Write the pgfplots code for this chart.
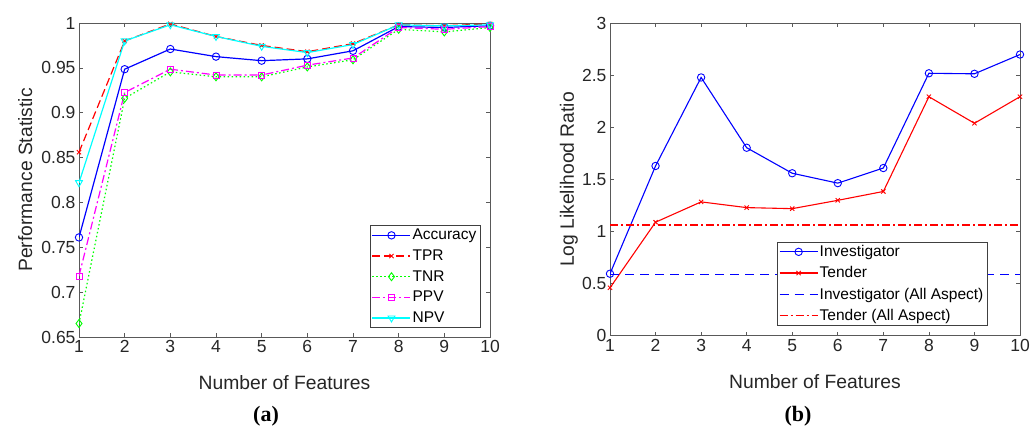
\documentclass[border=0pt]{standalone}
\usepackage{fontspec}
\setmainfont{Liberation Sans}
\newfontfamily\capfont{Liberation Serif}
\usepackage{pgfplots}
\pgfplotsset{compat=1.18}
\usepackage{pgfplotstable}

\pgfplotstableread{
x acc tpr tnr ppv npv
1 0.761 0.856 0.665 0.718 0.822
2 0.9485 0.980 0.916 0.9225 0.980
3 0.971 0.999 0.9455 0.9485 0.998
4 0.9625 0.985 0.940 0.942 0.985
5 0.958 0.975 0.940 0.942 0.974
6 0.960 0.968 0.951 0.953 0.967
7 0.969 0.977 0.959 0.961 0.976
8 0.996 0.998 0.993 0.995 0.998
9 0.995 0.997 0.990 0.993 0.9967
10 0.997 0.999 0.995 0.996 0.998
}\perf

\pgfplotstableread{
x inv ten
1 0.595 0.46
2 1.63 1.09
3 2.48 1.285
4 1.805 1.23
5 1.56 1.22
6 1.465 1.30
7 1.61 1.385
8 2.52 2.295
9 2.515 2.04
10 2.70 2.295
}\llr

\definecolor{mblue}{rgb}{0,0,1}
\definecolor{mred}{rgb}{1,0,0}
\definecolor{mgreen}{rgb}{0,1,0}
\definecolor{mmag}{rgb}{1,0,1}
\definecolor{mcyan}{rgb}{0,1,1}

\pgfplotsset{
  mstyle/.style={
    scale only axis,
    anchor=south west,
    xmin=1, xmax=10,
    xtick={1,...,10},
    tick pos=both,
    tick align=inside,
    major tick length=4pt,
    axis line style={black!65, line width=0.6pt},
    every tick/.style={black!65, line width=0.6pt},
    tick label style={font=\fontsize{17.5}{20}\selectfont, text=black!85},
    label style={font=\fontsize{19.3}{22}\selectfont, text=black!85},
    /pgf/number format/assume math mode=true,
    legend cell align=left,
    legend style={font=\fontsize{15.5}{18}\selectfont, draw=black!75, line width=0.6pt,
      inner sep=2pt, row sep=5.5pt, nodes={inner sep=1.5pt}},
    legend image code/.code={\draw[line width=1.2pt, mark repeat=2,mark phase=2] plot coordinates {(0pt,0pt) (19pt,0pt) (38pt,0pt)};},
    every axis plot/.append style={line width=1.2pt},
  }
}

\begin{document}
\begin{tikzpicture}
\useasboundingbox (0pt,0pt) rectangle (1033pt,428pt);

\begin{axis}[mstyle,
  at={(79pt,91pt)}, width=411pt, height=314pt,
  ymin=0.65, ymax=1,
  ytick={0.65,0.7,0.75,0.8,0.85,0.9,0.95,1},
  yticklabels={0.65,0.7,0.75,0.8,0.85,0.9,0.95,1},
  xlabel={Number of Features},
  ylabel={Performance Statistic},
  xlabel style={at={(axis description cs:0.5,0)}, anchor=center, yshift=-46pt},
  ylabel style={at={(axis description cs:-0.131,0.5)}, anchor=center},
  legend style={at={(axis description cs:0.976,0.029)}, anchor=south east},
]
\addplot[mblue, solid, mark=o, mark size=3.7pt, mark options={line width=0.9pt}] table[x=x,y=acc] {\perf};
\addlegendentry{Accuracy}
\addplot[mred, dashed, dash pattern=on 8pt off 4pt, mark=x, mark size=3pt, mark options={solid,line width=0.9pt}] table[x=x,y=tpr] {\perf};
\addlegendentry{TPR}
\addplot[mgreen, dotted, dash pattern=on 1.5pt off 2.5pt, mark=diamond, mark size=4pt, mark options={solid,line width=0.9pt}] table[x=x,y=tnr] {\perf};
\addlegendentry{TNR}
\addplot[mmag, dash pattern=on 8pt off 3pt on 2pt off 3pt, mark=square, mark size=3pt, mark options={solid,line width=0.9pt}] table[x=x,y=ppv] {\perf};
\addlegendentry{PPV}
\addplot[mcyan, solid, mark=triangle, mark size=4pt, mark options={rotate=180,line width=0.9pt}] table[x=x,y=npv] {\perf};
\addlegendentry{NPV}
\end{axis}

\begin{axis}[mstyle,
  at={(610pt,92.3pt)}, width=410pt, height=312.4pt,
  ymin=0, ymax=3,
  ytick={0,0.5,1,1.5,2,2.5,3},
  yticklabels={0,0.5,1,1.5,2,2.5,3},
  xlabel={Number of Features},
  ylabel={Log Likelihood Ratio},
  xlabel style={at={(axis description cs:0.5,0)}, anchor=center, yshift=-46pt},
  ylabel style={at={(axis description cs:-0.1,0.5)}, anchor=center},
  legend style={at={(axis description cs:0.920,0.032)}, anchor=south east},
]
\addplot[mblue, solid, line width=1.1pt, mark=o, mark size=3.7pt, mark options={line width=0.9pt}] table[x=x,y=inv] {\llr};
\addlegendentry{Investigator}
\addplot[mred, solid, line width=1.1pt, mark=x, mark size=3pt, mark options={line width=0.9pt}] table[x=x,y=ten] {\llr};
\addlegendentry{Tender}
\addplot[mblue, line width=1.2pt, dash pattern=on 9pt off 6pt] coordinates {(1,0.59) (10,0.59)};
\addlegendentry{Investigator (All Aspect)}
\addplot[mred, line width=1.2pt, dash pattern=on 8pt off 3pt on 2pt off 3pt] coordinates {(1,1.064) (10,1.064)};
\addlegendentry{Tender (All Aspect)}
\end{axis}

\node[font=\capfont\bfseries\fontsize{22}{24}\selectfont, anchor=center] at (266pt,12pt) {(a)};
\node[font=\capfont\bfseries\fontsize{22}{24}\selectfont, anchor=center] at (798pt,12pt) {(b)};
\end{tikzpicture}
\end{document}
